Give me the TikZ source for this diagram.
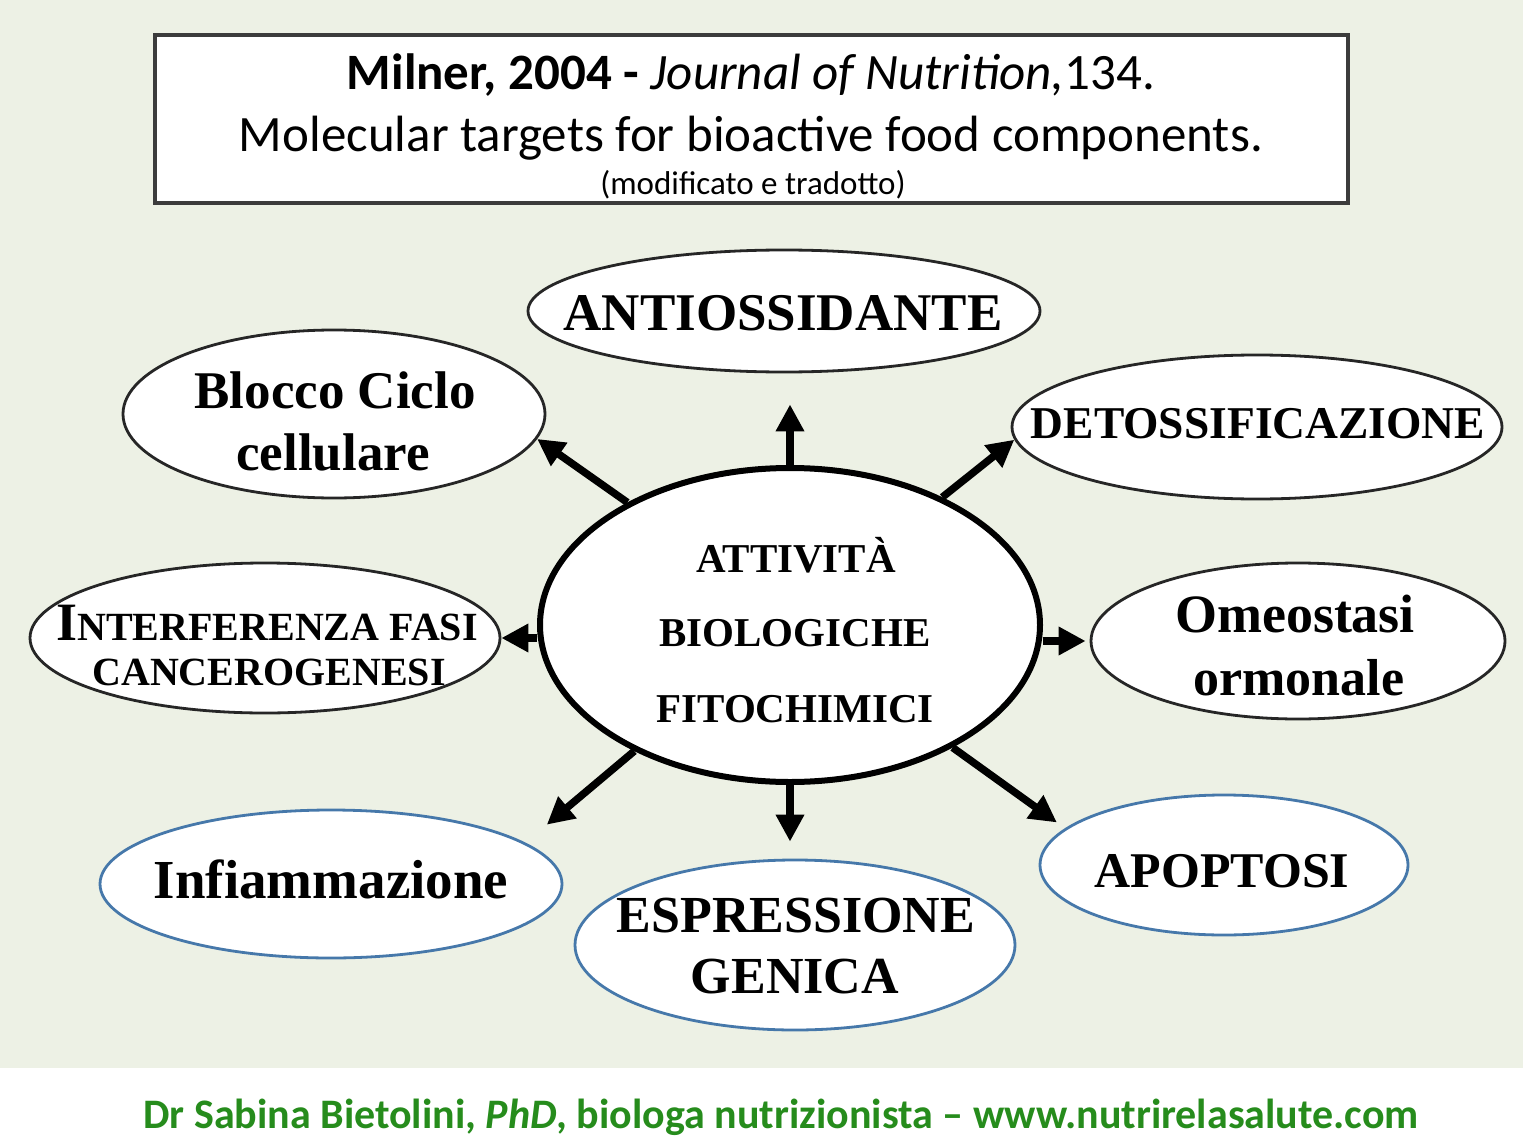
\documentclass[tikz,border=0pt]{standalone}
\usepackage{fontspec}
\setmainfont{Liberation Serif}
\newfontfamily\calfont{Carlito}
\usetikzlibrary{shapes.geometric,arrows.meta}
\definecolor{bg}{RGB}{237,241,229}
\definecolor{bluebd}{RGB}{70,120,170}
\definecolor{footgreen}{RGB}{38,140,28}
\definecolor{boxbd}{RGB}{60,60,60}
\begin{document}
\begin{tikzpicture}[x=1pt,y=-1pt,
  oval/.style={shape=ellipse, draw=black!85, line width=2.8pt, fill=white, inner sep=0pt},
  blueoval/.style={oval, draw=bluebd},
  centeroval/.style={oval, draw=black, line width=6pt},
  txt/.style={anchor=base, inner sep=0pt, font=\bfseries},
  arr/.style={line width=7.5pt, -{Triangle[length=27pt,width=27pt]}},
]
\useasboundingbox (0,0) rectangle (1523,1142);
\fill[white] (0,0) rectangle (1523,1142);
\fill[bg] (0,0) rectangle (1523,1068);

% title box
\node[draw=boxbd, line width=4pt, fill=white, minimum width=1193pt, minimum height=168pt, inner sep=0pt] (title) at (751.5,119) {};
\node[anchor=base, inner sep=0pt] (t1) at (751,90) {\calfont\fontsize{51}{56}\selectfont\bfseries Milner, 2004 - \mdseries\itshape Journal of Nutrition,\upshape 134.};
\node[anchor=base, inner sep=0pt] (t2) at (751,152) {\calfont\fontsize{51}{56}\selectfont Molecular targets for bioactive food components.};
\node[anchor=base, inner sep=0pt] (t3) at (753,195) {\calfont\fontsize{33}{38}\selectfont (modificato e tradotto)};

% ellipses
\node[centeroval, minimum width=500pt, minimum height=314pt] (c) at (790,625) {};
\node[oval, minimum width=512pt, minimum height=122pt] (anti) at (784,311) {};
\node[oval, minimum width=422pt, minimum height=168pt] (blocco) at (334,414) {};
\node[oval, minimum width=490pt, minimum height=144pt] (detox) at (1257,427) {};
\node[oval, minimum width=470pt, minimum height=150pt] (inter) at (265,638) {};
\node[oval, minimum width=414pt, minimum height=156pt] (omeo) at (1298,641) {};
\node[blueoval, minimum width=462pt, minimum height=148pt] (infl) at (331,884) {};
\node[blueoval, minimum width=440pt, minimum height=170pt] (esp) at (795,945) {};
\node[blueoval, minimum width=368pt, minimum height=140pt] (apop) at (1224,865) {};

% texts
\node[txt] (antiT) at (783,330) {\fontsize{53}{60}\selectfont ANTIOSSIDANTE};
\node[txt] (bloccoT1) at (335,408) {\fontsize{53}{60}\selectfont Blocco Ciclo};
\node[txt] (bloccoT2) at (333,470) {\fontsize{53}{60}\selectfont cellulare};
\node[txt] (detoxT) at (1258,438) {\fontsize{45.5}{52}\selectfont DETOSSIFICAZIONE};
\node[txt] (cT1) at (796,572) {\fontsize{41}{48}\selectfont ATTIVITÀ};
\node[txt] (cT2) at (795,646) {\fontsize{41}{48}\selectfont BIOLOGICHE};
\node[txt] (cT3) at (795,722) {\fontsize{41}{48}\selectfont FITOCHIMICI};
\node[txt] (interT1) at (267,640) {{\fontsize{54}{60}\selectfont I}{\fontsize{40}{48}\selectfont NTERFERENZA FASI}};
\node[txt] (interT2) at (269,685) {\fontsize{40}{48}\selectfont CANCEROGENESI};
\node[txt] (omeoT1) at (1295,632) {\fontsize{54}{60}\selectfont Omeostasi};
\node[txt] (omeoT2) at (1299,695) {\fontsize{52}{60}\selectfont ormonale};
\node[txt] (inflT) at (331,898) {\fontsize{55}{60}\selectfont Infiammazione};
\node[txt] (espT1) at (796,932) {\fontsize{52}{60}\selectfont ESPRESSIONE};
\node[txt] (espT2) at (795,993) {\fontsize{52}{60}\selectfont GENICA};
\node[txt] (apopT) at (1222,887) {\fontsize{50}{60}\selectfont APOPTOSI};

% arrows
\draw[arr, shorten >=31pt] (c.north) -- (c.north |- anti.south);
\draw[arr] (c.143) -- (blocco.-7);
\draw[arr] (c.40) -- (detox.183);
\draw[arr] (c.west |- inter.east) -- (inter.east);
\draw[arr, shorten >=4pt] (c.east |- omeo.west) -- (omeo.west);
\draw[arr, shorten >=28pt] (c.219) -- (infl.12);
\draw[arr, shorten >=17pt] (c.south) -- (c.south |- esp.north);
\draw[arr, shorten >=10pt] (c.-37) -- (apop.167);

% footer
\node[anchor=base, inner sep=0pt, text=footgreen] (foot) at (781,1128) {\calfont\fontsize{42}{48}\selectfont\bfseries Dr Sabina Bietolini, \itshape PhD\upshape, biologa nutrizionista – www.nutrirelasalute.com};
\end{tikzpicture}
\end{document}
